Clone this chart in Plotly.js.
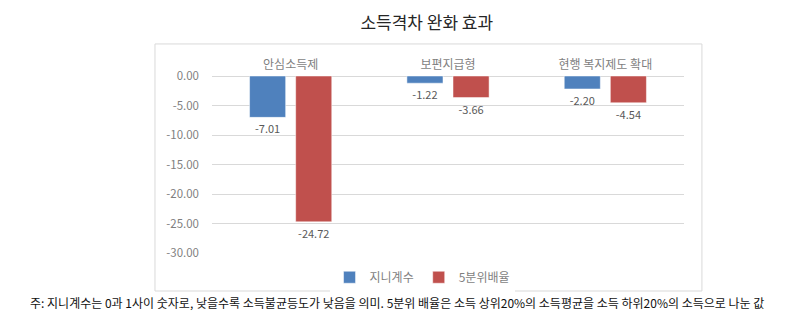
<!DOCTYPE html>
<html>
<head>
<meta charset="utf-8">
<script src="https://cdn.plot.ly/plotly-3.0.1.min.js"></script>
<style>
html,body{margin:0;padding:0;background:#fff;}
#chart{width:800px;height:329px;}
</style>
</head>
<body>
<div id="chart"></div>
<script>
const categories = ['안심소득제', '보편지급형', '현행 복지제도 확대'];
const giniValues = [-7.01, -1.22, -2.20];
const quintileValues = [-24.72, -3.66, -4.54];
const seriesNames = ['지니계수', '5분위배율'];
const yTicks = [0, -5, -10, -15, -20, -25, -30];
const titleText = '소득격차 완화 효과';
const noteText = '주: 지니계수는 0과 1사이 숫자로, 낮을수록 소득불균등도가 낮음을 의미. 5분위 배율은 소득 상위20%의 소득평균을 소득 하위20%의 소득으로 나눈 값';

const FONT = '"Noto Sans CJK KR", "Noto Sans", sans-serif';
const gray = '#7f7f7f';

const traces = [
  {
    type: 'bar', name: seriesNames[0], x: categories, y: giniValues,
    marker: {color: '#4f81bd', line: {color: '#ffffff', width: 0.5}},
    text: giniValues.map(v => v.toFixed(2)), textposition: 'outside',
    textfont: {family: FONT, size: 11, color: '#595959'}, cliponaxis: false
  },
  {
    type: 'bar', name: seriesNames[1], x: categories, y: quintileValues,
    marker: {color: '#c0504d', line: {color: '#ffffff', width: 0.5}},
    text: quintileValues.map(v => v.toFixed(2)), textposition: 'outside',
    textfont: {family: FONT, size: 11, color: '#595959'}, cliponaxis: false
  }
];

const layout = {
  width: 800, height: 329,
  margin: {l: 212, r: 116, t: 76, b: 76},
  paper_bgcolor: '#ffffff', plot_bgcolor: '#ffffff',
  font: {family: FONT, color: gray, size: 10},
  title: {text: titleText, x: 0.455, xref: 'paper', xanchor: 'center', y: 0.93, yref: 'container', yanchor: 'middle',
          font: {family: FONT, size: 17, color: '#262626'}},
  barmode: 'group', bargap: 0.414, bargroupgap: 0.217,
  showlegend: true,
  legend: {orientation: 'h', x: 0.445, xanchor: 'center', y: -0.055, yanchor: 'top',
           font: {family: FONT, size: 12, color: gray}, itemwidth: 30, traceorder: 'normal'},
  xaxis: {side: 'top', showline: false, showgrid: false, zeroline: false, ticks: '',
          tickfont: {family: FONT, size: 12, color: gray}, ticklabelstandoff: 4, fixedrange: true},
  yaxis: {range: [-30, 0], tickvals: yTicks, ticktext: yTicks.map(v => v.toFixed(2)),
          showgrid: true, gridcolor: '#d9d9d9', gridwidth: 1, zeroline: true, zerolinecolor: '#d9d9d9',
          showline: false, ticks: '', tickfont: {family: FONT, size: 11.5, color: gray},
          ticklabelstandoff: 12, fixedrange: true},
  shapes: [
    {type: 'rect', xref: 'paper', yref: 'paper', x0: -0.1208, x1: 1.038, y0: -0.2147, y1: 1.181,
     line: {color: '#d9d9d9', width: 1}, fillcolor: 'rgba(0,0,0,0)', layer: 'below'}
  ],
  annotations: [
    {text: noteText, xref: 'paper', yref: 'paper', x: 0.393, y: -0.22, xanchor: 'center', yanchor: 'top',
     showarrow: false, font: {family: FONT, size: 12, color: '#111111'}}
  ]
};

Plotly.newPlot('chart', traces, layout, {displayModeBar: false, staticPlot: true});
</script>
</body>
</html>
